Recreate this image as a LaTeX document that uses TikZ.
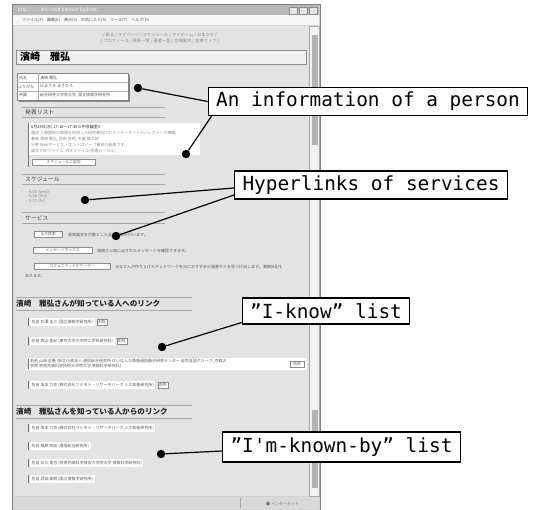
\documentclass[tikz,border=0pt]{standalone}
\usepackage{fontspec}
\newfontfamily\jpfont{Noto Sans CJK JP}
\newfontfamily\callfont{DejaVu Sans Mono}
\usetikzlibrary{positioning}

\begin{document}
\begin{tikzpicture}[x=1pt,y=-1pt,
  dot/.style={circle,fill=black,minimum size=8.4pt},
  callout/.style={draw,fill=white,line width=1.1pt,inner xsep=8pt,minimum height=28pt,font=\callfont\fontsize{19.4}{20}\selectfont},
  leader/.style={line width=1.2pt},
  tiny/.style={anchor=west,font=\jpfont\fontsize{4}{5}\selectfont,text=black!65},
  link/.style={tiny,text=black!45},
  entry/.style={tiny,fill=white,inner xsep=1.5pt,inner ysep=1.6pt},
  head/.style={anchor=west,font=\jpfont\fontsize{5.8}{6}\selectfont,text=black!75},
  bighead/.style={anchor=west,font=\jpfont\bfseries\fontsize{7.6}{8}\selectfont,text=black!85},
  rule/.style={draw=black!35,line width=0.5pt},
  btn/.style={draw=black!45,fill=white,font=\jpfont\fontsize{3.8}{4}\selectfont,text=black!60,minimum height=6pt,anchor=west},
  bar/.style={draw=black!55,line width=0.8pt}]
\tikzstyle{every node}+=[inner sep=0pt]
\useasboundingbox (0,0) rectangle (533,510);
\fill[white] (0,0) rectangle (533,510);
\fill[black!18] (12,4) rectangle (320,510);
\draw[black!50] (12,4) rectangle (320,510);
\fill[black!28] (13,5) rectangle (319,15);
\node[anchor=west,font=\jpfont\fontsize{4.5}{5}\selectfont,text=white] (ttl) at (18,10) {http:// \dots\ - Microsoft Internet Explorer};
\foreach \bx in {289,299,309} \draw[black!45,fill=black!10] (\bx,7) rectangle ++(8,7);
\fill[black!3] (13,15) rectangle (319,25);
\node[tiny] (menu) at (22,20.5) {ファイル(F)\quad 編集(E)\quad 表示(V)\quad お気に入り(A)\quad ツール(T)\quad ヘルプ(H)};
\fill[black!11] (14,26) rectangle (309,496);
\fill[black!5] (309,26) rectangle (319,496);
\draw[black!35] (309,26) rectangle (319,496);
\fill[black!30] (312,35) rectangle (318,145);
\fill[black!30] (312,410) rectangle (318,488);
\fill[black!15] (13,497) rectangle (319,509);
\draw[black!35] (240,498) -- (240,508);
\node[tiny,text=black!55] (net) at (266,503.5) {● インターネット};
\node[link,anchor=center,font=\jpfont\itshape\fontsize{4.3}{5}\selectfont] (nav1) at (160,35) {/ 戻る / マイページ / スケジュール / マイホーム / おまかせ /};
\node[link,anchor=center,font=\jpfont\itshape\fontsize{4.3}{5}\selectfont] (nav2) at (160,41) {/ プロフィール / 発表一覧 / 著者一覧 / 会場案内 / 会場マップ /};
\draw[black!45,fill=black!6] (16,50) rectangle (306,64);
\node[anchor=west,font=\jpfont\bfseries\fontsize{10}{11}\selectfont] (name) at (20,57) {濱崎　雅弘};
\fill[black!45] (19,75) rectangle (130,102);
\draw[black!50,fill=white] (17,73) rectangle (128,100);
\draw[black!30] (38,73) -- (38,100) (17,82) -- (128,82) (17,91) -- (128,91);
\node[tiny] (k1) at (19,77.5) {氏名};
\node[tiny] (k2) at (18,86.5) {ふりがな};
\node[tiny] (k3) at (19,95.5) {所属};
\node[tiny] (v1) at (40,77.5) {濱崎 雅弘};
\node[tiny] (v2) at (40,86.5) {はまさき まさひろ};
\node[tiny] (v3) at (40,95.5) {総合研究大学院大学, 国立情報学研究所};
\draw[rule] (22,107) -- (165,107) (22,117) -- (165,117);
\node[head] (talks) at (25,112) {発表リスト};
\fill[white] (29,123) rectangle (200,155);
\draw[bar] (28,123) -- (28,167);
\node[tiny,text=black!85] (t1) at (31,127) {6月25日(水)\ 17:10〜17:30\ D 中会議室3};
\node[link] (t2) at (31,133) {題目\ 人間関係の情報を利用した研究者向けのインターネットディレクトリの構築};
\node[link] (t3) at (31,139) {著者\ 濱崎 雅弘, 武田 英明, 市瀬 龍太郎};
\node[link] (t4) at (31,145) {分野\ Webサービス・オントロジー\ \ 7番目の発表です。};
\node[link] (t5) at (31,151) {論文\ PDFファイル, PDFファイル(会場ローカル)};
\node[btn,minimum width=63pt] (addsch) at (32,162) {スケジュールに追加};
\draw[rule] (22,174) -- (165,174) (22,184) -- (165,184);
\node[head] (sched) at (25,179) {スケジュール};
\node[link] (s1) at (25,192) {・6/25 (wed)};
\node[link] (s2) at (25,196.5) {・6/26 (thu)};
\node[link] (s3) at (25,201) {・6/27 (fri)};
\draw[rule] (22,212) -- (165,212) (22,223) -- (165,223);
\node[head] (serv) at (25,218) {サービス};
\node[btn,minimum width=28pt] (search) at (34,234.5) {全文検索};
\node[tiny] (search txt) at (68,234.5) {発表論文を対象とした全文検索を行います。};
\node[btn,minimum width=59pt] (msg) at (33,250.5) {メッセージボックス};
\node[tiny] (msg txt) at (97,250.5) {濱崎さん宛に出されたメッセージを確認できます。};
\node[btn,minimum width=76pt] (navi) at (34,266.5) {コミュニティナビゲーター};
\node[tiny] (navi txt) at (115,266.5) {みなさんが作り上げたネットワークを元におすすめの発表や人を見つけ出します。濱崎日記も};
\node[tiny] (navi txt2) at (25,276) {あります。};
\draw[rule] (16,297) -- (192,297) (16,310) -- (192,310);
\node[bighead] (know) at (16,303.5) {濱崎　雅弘さんが知っている人へのリンク};
\foreach \ey in {322,341,385} \draw[bar] (28,\ey-4) -- (28,\ey+4);
\draw[bar] (28,359) -- (28,369);
\node[entry] (k a) at (30,322) {名前\ 松澤 圭三 (国立情報学研究所)};
\node[btn,right=2pt of k a,minimum width=10pt] (k a del) {削除};
\node[entry] (k b) at (30,341) {名前\ 西山 亜紀 (東京大学大学院工学系研究科)};
\node[btn,right=2pt of k b,minimum width=10pt] (k b del) {削除};
\fill[white] (29,358) rectangle (307,370);
\node[tiny] (k c) at (30,361) {名前\ 山田 正隆 (独立行政法人 通信総合研究所 けいはんな情報通信融合研究センター 自然言語グループ, 京都大};
\node[tiny] (k c2) at (30,366.5) {学院 奈良先端科学技術大学院大学 情報科学研究科)};
\node[btn,minimum width=14pt] (k c del) at (290,364) {削除};
\node[entry] (k d) at (30,385) {名前\ 坂本 力彦 (株式会社フジモト・リサーチパーク 人工知能研究所)};
\node[btn,right=2pt of k d,minimum width=10pt] (k d del) {削除};
\draw[rule] (16,405) -- (192,405) (16,418) -- (192,418);
\node[bighead] (known) at (16,411.5) {濱崎　雅弘さんを知っている人からのリンク};
\foreach \ey in {428,446,463,479} \draw[bar] (28,\ey-4) -- (28,\ey+4);
\node[entry] (b a) at (30,428) {名前\ 坂本 力彦 (株式会社フジモト・リサーチパーク 人工知能研究所)};
\node[entry] (b b) at (30,446) {名前\ 福原 知宏 (通信総合研究所)};
\node[entry] (b c) at (30,463) {名前\ 石川 竜也 (奈良先端科学技術大学院大学 情報科学研究科)};
\node[entry] (b d) at (30,479) {名前\ 武田 英明 (国立情報学研究所)};
\node[dot] (d1) at (138,88) {};
\node[dot] (d2) at (186,154) {};
\node[dot] (d3) at (85,200) {};
\node[dot] (d4) at (116,236) {};
\node[dot] (d5) at (162,347) {};
\node[dot] (d6) at (161,454) {};
\node[callout] (c1) at (368,101.5) {An information of a person};
\node[callout] (c2) at (371,185) {Hyperlinks of services};
\node[callout,minimum height=26pt] (c3) at (326,311) {”I-know” list};
\node[callout,minimum height=30pt] (c4) at (341.5,447) {”I'm-known-by” list};
\draw[leader] (c1.west) -- (d1);
\draw[leader] ([xshift=4pt]c1.south west) -- (d2);
\draw[leader] ([yshift=-3pt]c2.west) -- (d3);
\draw[leader] ([yshift=-10pt]c2.west) -- (d4);
\draw[leader] ([yshift=2pt]c3.south west) -- (d5);
\draw[leader] ([yshift=-4pt]c4.west) -- (d6);
\end{tikzpicture}
\end{document}
